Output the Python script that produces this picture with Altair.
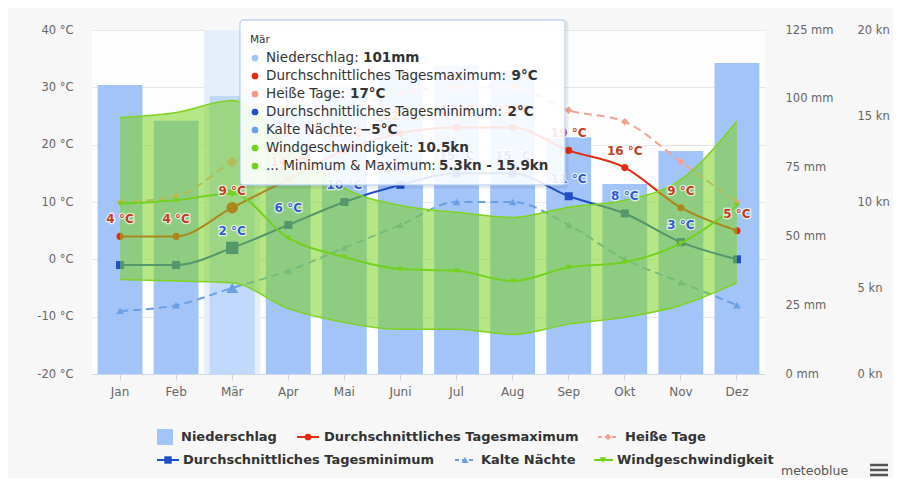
import altair as alt
import pandas as pd

FONT = "DejaVu Sans"

# ---------------- data ----------------
months = ["Jan", "Feb", "Mär", "Apr", "Mai", "Juni", "Jul", "Aug", "Sep", "Okt", "Nov", "Dez"]
precip_mm = [105, 92, 101, 96, 104, 110, 112, 110, 86, 69, 81, 113]
tmax = [4, 4, 9, 14, 19, 22, 23, 23, 19, 16, 9, 5]
hot_days = [10, 11, 17, 22, 26, 29, 30, 30, 26, 24, 17, 10]
tmin = [-1, -1, 2, 6, 10, 13, 15, 15, 11, 8, 3, 0]
cold_nights = [-9, -8, -5, -2, 2, 6, 10, 10, 6, 0, -4, -8]
wind_mean = [9.9, 10.1, 10.5, 7.9, 6.8, 6.1, 6.0, 5.4, 6.2, 6.5, 7.6, 9.8]
wind_min = [5.5, 5.4, 5.3, 3.8, 3.0, 2.6, 2.6, 2.3, 2.9, 3.3, 4.0, 5.3]
wind_max = [14.9, 15.2, 15.9, 13.4, 10.8, 9.8, 9.4, 9.1, 9.7, 10.1, 11.3, 14.7]
temp_ticks = [-20, -10, 0, 10, 20, 30, 40]
mm_ticks = [0, 25, 50, 75, 100, 125]
kn_ticks = [0, 5, 10, 15, 20]
hover_month = "Mär"

series_names = ["Niederschlag", "Durchschnittliches Tagesmaximum", "Heiße Tage",
                "Durchschnittliches Tagesminimum", "Kalte Nächte", "Windgeschwindigkeit"]

df = pd.DataFrame({
    "month": months, "precip": precip_mm, "tmax": tmax, "hot": hot_days,
    "tmin": tmin, "cold": cold_nights, "wind": wind_mean,
    "wmin": wind_min, "wmax": wind_max,
})
one = pd.DataFrame({"d": [0]})

# ---------------- layout / style ----------------
W, H = 673, 344
OX, OY = 92, 30          # absolute page position of plot area


def vx(a):
    return a - OX


def vy(a):
    return a - OY


BAR = "#a3c4f9"
BAR_HI = "#c0d8fb"
BAND = "#e6eef9"
RED = "#e32b12"
PINK = "#f4a193"
BLUE = "#1f4ec6"
LBLUE = "#6b9fe3"
GREEN = "#72d11c"
AREA = "#7ed321"
TXT = "#333333"
AX = "#666666"

is_hover = alt.datum.month == hover_month

X = alt.X("month:N", sort=months,
          scale=alt.Scale(domain=months, paddingInner=0, paddingOuter=0),
          axis=alt.Axis(title=None, labelAngle=0, labelFontSize=12, labelColor=AX,
                        labelFont=FONT, domainColor="#ccd6eb", tickColor="#ccd6eb",
                        tickSize=6, labelPadding=6, grid=False))

temp_scale = alt.Scale(domain=[-20, 40], nice=False, zero=False)
mm_scale = alt.Scale(domain=[0, 125], nice=False)
kn_scale = alt.Scale(domain=[0, 20], nice=False)

temp_axis = alt.Axis(title=None, orient="left", values=temp_ticks,
                     labelExpr="datum.value + ' °C'", grid=True, gridColor="#e6e6e6",
                     domain=False, ticks=False, labelPadding=19, labelFontSize=11.5,
                     labelColor=AX, labelFont=FONT)
mm_axis = alt.Axis(title=None, orient="right", values=mm_ticks,
                   labelExpr="datum.value + ' mm'", grid=False, domain=False,
                   ticks=False, labelPadding=20, labelFontSize=11.5, labelColor=AX,
                   labelFont=FONT)
kn_axis = alt.Axis(title=None, orient="right", values=kn_ticks, offset=72,
                   labelExpr="datum.value + ' kn'", grid=False, domain=False,
                   ticks=False, labelPadding=20, labelFontSize=11.5, labelColor=AX,
                   labelFont=FONT)

base = alt.Chart(df)


def size_cond(normal, big):
    return alt.when(is_hover).then(alt.value(big)).otherwise(alt.value(normal))


def tline(field, color, dash=None, axis=None):
    kw = dict(color=color, strokeWidth=2, interpolate="monotone")
    if dash:
        kw["strokeDash"] = dash
    return base.mark_line(**kw).encode(
        x=X, y=alt.Y(f"{field}:Q", scale=temp_scale, axis=axis))


def tpts(field, color, shape, normal, big, scale=temp_scale):
    return base.mark_point(filled=True, shape=shape, color=color, opacity=1).encode(
        x=X, y=alt.Y(f"{field}:Q", scale=scale, axis=None),
        size=size_cond(normal, big))


# hover band + bars
band = alt.Chart(pd.DataFrame({"month": [hover_month]})).mark_rect(color=BAND).encode(
    x=X, y=alt.value(0), y2=alt.value(H))
bars = base.mark_bar(width=alt.RelativeBandSize(0.8)).encode(
    x=X, y=alt.Y("precip:Q", scale=mm_scale, axis=mm_axis),
    color=alt.when(is_hover).then(alt.value(BAR_HI)).otherwise(alt.value(BAR)))

layers = [band, bars]
layers += [tline("tmax", RED, axis=temp_axis), tpts("tmax", RED, "circle", 50, 130)]
layers += [tline("hot", PINK, dash=[8, 5]), tpts("hot", PINK, "diamond", 55, 120)]
layers += [tline("tmin", BLUE), tpts("tmin", BLUE, "square", 64, 150)]
layers += [tline("cold", LBLUE, dash=[8, 5]), tpts("cold", LBLUE, "triangle-up", 60, 140)]

# wind range area + edges + mean line
area = base.mark_area(color=AREA, opacity=0.55, interpolate="monotone").encode(
    x=X, y=alt.Y("wmin:Q", scale=kn_scale, axis=kn_axis), y2="wmax:Q")
edge_top = base.mark_line(color=AREA, strokeWidth=1.5, interpolate="monotone").encode(
    x=X, y=alt.Y("wmax:Q", scale=kn_scale, axis=None))
edge_bot = base.mark_line(color=AREA, strokeWidth=1.5, interpolate="monotone").encode(
    x=X, y=alt.Y("wmin:Q", scale=kn_scale, axis=None))
wline = base.mark_line(color=GREEN, strokeWidth=2, interpolate="monotone").encode(
    x=X, y=alt.Y("wind:Q", scale=kn_scale, axis=None))
wpts = tpts("wind", GREEN, "triangle-down", 35, 80, scale=kn_scale)
layers += [area, edge_top, edge_bot, wline, wpts]


# data labels
def dlabels(field, color, filt=None):
    c = base.transform_calculate(lab=f"datum.{field} + ' °C'")
    if filt:
        c = c.transform_filter(filt)
    enc = dict(x=X, y=alt.Y(f"{field}:Q", scale=temp_scale, axis=None), text="lab:N")
    halo = c.mark_text(dy=-17, fontSize=12, fontWeight="bold", font=FONT, color="white",
                       stroke="white", strokeWidth=2.5, strokeOpacity=0.7).encode(**enc)
    txt = c.mark_text(dy=-17, fontSize=12, fontWeight="bold", font=FONT,
                      color=color).encode(**enc)
    return [halo, txt]


layers += dlabels("tmax", "#c23c1e")
layers += dlabels("tmin", "#2d5bd0", "datum.tmin > 0")


# ---------------- helpers for annotation marks ----------------
def text_at(x, y, s, size, color=TXT, weight="normal", align="left", font=FONT):
    return alt.Chart(one).mark_text(align=align, baseline="middle", fontSize=size,
                                    font=font, fontWeight=weight, color=color).encode(
        x=alt.value(vx(x)), y=alt.value(vy(y)), text=alt.value(s))


def dot_at(x, y, color, shape="circle", size=40):
    return alt.Chart(one).mark_point(filled=True, shape=shape, color=color, opacity=1,
                                     size=size).encode(
        x=alt.value(vx(x)), y=alt.value(vy(y)))


def rule_at(x1, x2, y, color, width=2, dash=None):
    kw = dict(color=color, strokeWidth=width)
    if dash:
        kw["strokeDash"] = dash
    return alt.Chart(one).mark_rule(**kw).encode(
        x=alt.value(vx(x1)), x2=alt.value(vx(x2)), y=alt.value(vy(y)))


# ---------------- tooltip for the hovered month ----------------
i = months.index(hover_month)
tt_rows = [
    ("Niederschlag: ", f"{precip_mm[i]}mm", BAR, 363),
    ("Durchschnittliches Tagesmaximum: ", f"{tmax[i]}°C", RED, 511.5),
    ("Heiße Tage: ", f"{hot_days[i]}°C", "#f29a8a", 350),
    ("Durchschnittliches Tagesminimum: ", f"{tmin[i]}°C", BLUE, 507.5),
    ("Kalte Nächte: ", f"{cold_nights[i]}°C".replace("-", "−"), LBLUE, 360),
    ("Windgeschwindigkeit: ", f"{wind_mean[i]}kn", GREEN, 417),
    ("... Minimum & Maximum: ", f"{wind_min[i]}kn - {wind_max[i]}kn", GREEN, 439),
]
tt = []
tt.append(alt.Chart(one).mark_rect(fillOpacity=0, stroke="#000000", strokeOpacity=0.07,
                                   strokeWidth=3, cornerRadius=3).encode(
    x=alt.value(vx(241)), x2=alt.value(vx(567)), y=alt.value(vy(21)), y2=alt.value(vy(187))))
tt.append(alt.Chart(one).mark_rect(fill="white", fillOpacity=0.88, stroke="#a8c7f5",
                                   strokeWidth=1, cornerRadius=3).encode(
    x=alt.value(vx(240)), x2=alt.value(vx(565)), y=alt.value(vy(20)), y2=alt.value(vy(185))))
tt.append(text_at(250, 40, hover_month, 10.5))
for k, (lab, val, col, xv) in enumerate(tt_rows):
    yy = 58 + 18 * k
    tt.append(dot_at(255, yy, col, size=45))
    tt.append(text_at(266, yy, lab, 13.5))
    tt.append(text_at(xv, yy, val, 13.5, weight="bold"))
layers += tt

# ---------------- legend ----------------
leg = []
# row 1
leg.append(alt.Chart(one).mark_rect(color=BAR).encode(
    x=alt.value(vx(157)), x2=alt.value(vx(173)), y=alt.value(vy(429)), y2=alt.value(vy(445))))
leg.append(text_at(181, 437, series_names[0], 13, weight="bold"))
leg.append(rule_at(297, 319, 437, RED))
leg.append(dot_at(308, 437, RED, "circle", 45))
leg.append(text_at(324, 437, series_names[1], 13, weight="bold"))
leg.append(rule_at(598, 619, 437, PINK, dash=[4, 3]))
leg.append(dot_at(608, 437, PINK, "diamond", 45))
leg.append(text_at(625, 437, series_names[2], 13, weight="bold"))
# row 2
leg.append(rule_at(157, 179, 460, BLUE))
leg.append(dot_at(168, 460, BLUE, "square", 55))
leg.append(text_at(183, 460, series_names[3], 13, weight="bold"))
leg.append(rule_at(455, 476, 460, LBLUE, dash=[4, 3]))
leg.append(dot_at(465, 460, LBLUE, "triangle-up", 50))
leg.append(text_at(481, 460, series_names[4], 13, weight="bold"))
leg.append(rule_at(594, 613, 460, GREEN))
leg.append(dot_at(603, 460, GREEN, "triangle-down", 40))
leg.append(text_at(617, 460, series_names[5], 13, weight="bold"))
# credit + menu icon
leg.append(text_at(781, 471, "meteoblue", 12.5, color="#555555"))
for yy in (465, 470, 475):
    leg.append(rule_at(870, 888, yy, "#555555", width=2.5))
layers += leg

chart = alt.layer(*layers).resolve_scale(y="independent").properties(
    width=W, height=H,
    autosize=alt.AutoSizeParams(type="none"),
    padding={"left": OX - 8, "top": OY - 8, "right": 885 - (OX - 8) - W,
             "bottom": 470 - (OY - 8) - H},
    background="#f7f7f7",
).configure_view(stroke=None, fill="#fdfdfd")

chart.save("out.html", embed_options={"renderer": "svg", "actions": False})
